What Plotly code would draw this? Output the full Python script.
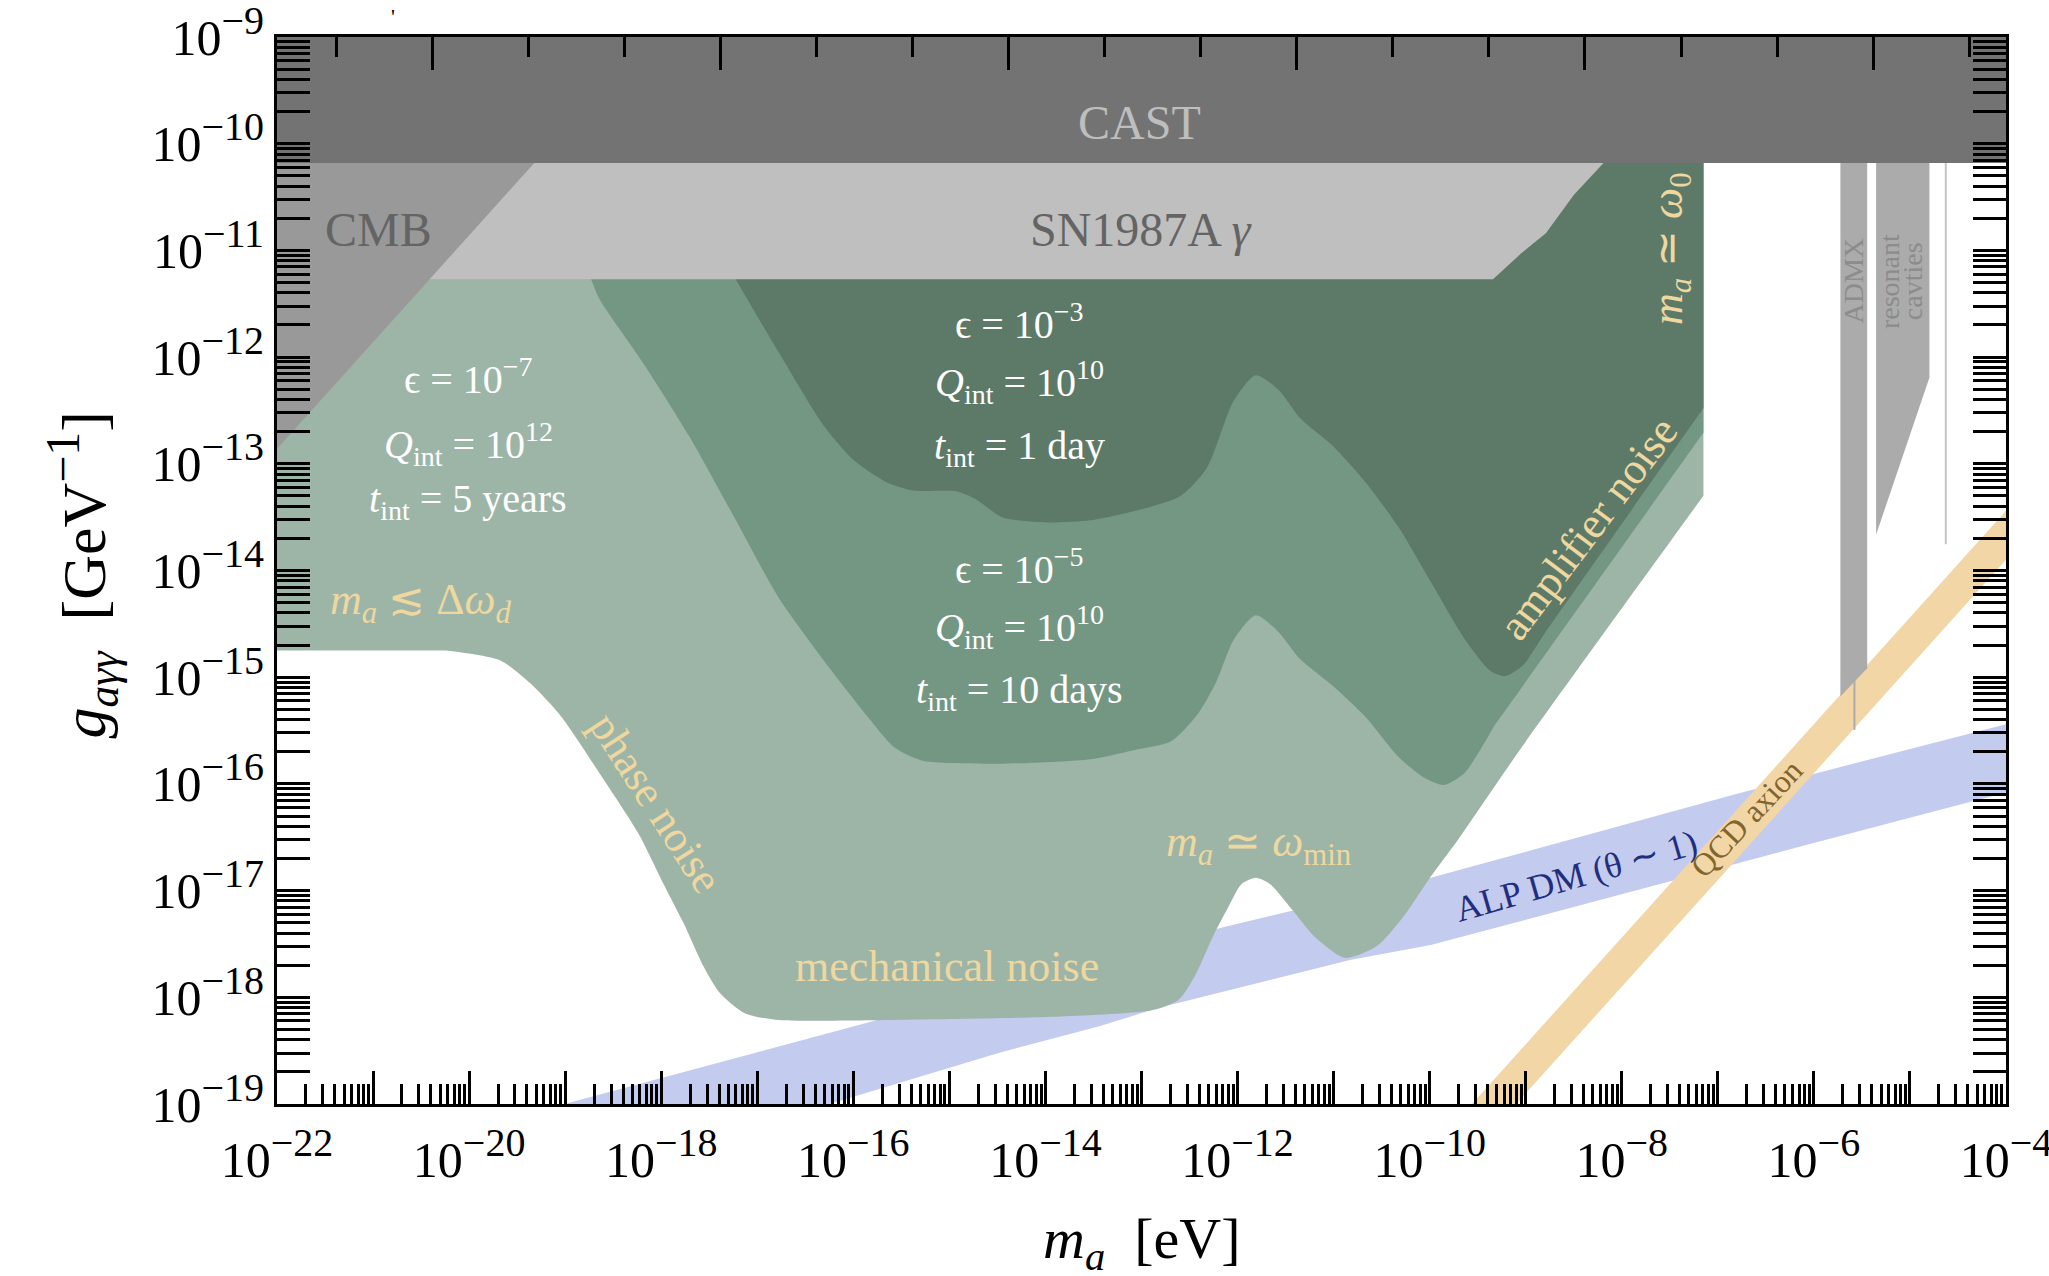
import numpy as np
import plotly.graph_objects as go

# all values are log10 exponents
# m_a in eV (x), g_agg in GeV^-1 (y)
X_RANGE = [-22, -4]
Y_RANGE = [-19, -9]
HZ_PER_EV = 14.383  # log10(eV -> Hz), for the top frequency ticks

CAST_M = [-22, -4, -4, -22]
CAST_G = [-9, -9, -10.18, -10.18]

CMB_M = [-22, -19.32, -22]
CMB_G = [-10.18, -10.18, -12.86]

SN_M = [-19.32, -8.19, -8.50, -8.79, -9.05, -9.34, -20.41]
SN_G = [-10.18, -10.18, -10.48, -10.84, -11.03, -11.27, -11.27]

# eps = 1e-7, Q = 1e12, 5 years
LIGHT_M = [-7.15, -7.15, -9.06, -9.71, -9.99, -10.27, -10.55, -10.88, -11.20, -11.43,
           -11.66, -11.81, -11.96, -12.10, -12.24, -12.45, -12.61, -12.88, -13.84, -15.43,
           -16.81, -17.13, -17.39, -17.56, -17.77, -17.98, -18.24, -18.62, -19.04, -19.36,
           -19.68, -20.24, -22.0, -22.0]
LIGHT_G = [-10.18, -13.30, -15.68, -16.53, -16.87, -17.24, -17.52, -17.63, -17.43, -17.18,
           -16.94, -16.88, -16.94, -17.16, -17.40, -17.81, -18.02, -18.12, -18.18, -18.21,
           -18.21, -18.15, -17.96, -17.71, -17.30, -16.93, -16.46, -15.93, -15.37, -15.06,
           -14.84, -14.75, -14.75, -10.18]
LIGHT_CORNERS = [1, 31, 32]

# eps = 1e-5, Q = 1e10, 10 days
MED_M = [-7.15, -7.15, -9.33, -9.63, -9.85, -10.06, -10.32, -10.67, -11.01, -11.35,
         -11.57, -11.81, -12.04, -12.22, -12.41, -12.69, -13.06, -13.53, -14.45, -15.29,
         -15.57, -15.85, -16.31, -16.78, -17.24, -17.71, -18.17, -18.64, -18.73, -18.73]
MED_G = [-10.18, -12.71, -15.46, -15.89, -16.01, -15.94, -15.75, -15.37, -15.08, -14.83,
         -14.58, -14.42, -14.65, -15.04, -15.34, -15.60, -15.68, -15.77, -15.81, -15.78,
         -15.66, -15.37, -14.84, -14.25, -13.50, -12.74, -12.08, -11.46, -11.27, -10.18]
MED_CORNERS = [1, 2, 28]

# eps = 1e-3, Q = 1e10, 1 day
DARK_M = [-7.15, -7.15, -8.81, -9.03, -9.22, -9.37, -9.63, -9.98, -10.32, -10.67,
          -11.01, -11.35, -11.57, -11.81, -12.04, -12.32, -12.59, -12.97, -13.53, -13.99,
          -14.45, -14.73, -14.92, -15.38, -15.66, -15.99, -16.31, -16.78, -17.22, -17.22]
DARK_G = [-10.18, -12.48, -14.60, -14.89, -14.99, -14.94, -14.65, -14.12, -13.60, -13.17,
          -12.83, -12.57, -12.31, -12.17, -12.41, -13.04, -13.30, -13.42, -13.53, -13.55,
          -13.50, -13.33, -13.26, -13.25, -13.17, -12.97, -12.64, -11.95, -11.28, -10.18]
DARK_CORNERS = [1, 28]

ALP_UP_M = [-20.0, -19.01, -15.73, -12.14, -9.99, -6.79, -4.0]
ALP_UP_G = [-19.24, -19.0, -18.21, -17.34, -16.88, -16.09, -15.44]
ALP_LO_M = [-17.0, -16.25, -14.48, -13.43, -12.83, -10.83, -9.99, -6.15, -4.0]
ALP_LO_G = [-19.20, -19.0, -18.52, -18.27, -18.10, -17.65, -17.51, -16.59, -16.08]

QCD_M = [-10.5, -3.5]
QCD_UP_G = [-19.94, -12.94]
QCD_LO_G = [-20.40, -13.40]

ADMX_M = [-5.724, -5.445, -5.445, -5.724]
ADMX_G = [-10.18, -10.18, -14.917, -15.181]
ADMX_TAIL_M = [-5.578, -5.578]
ADMX_TAIL_G = [-15.0, -15.494]

CAV_M = [-5.352, -4.797, -4.797, -5.352]
CAV_G = [-10.18, -10.18, -12.192, -13.663]
CAV_LINE_M = [-4.627, -4.627]
CAV_LINE_G = [-10.18, -13.753]

FONT = "Liberation Serif"
BEIGE = "#efd7a0"


def poly(m, g, color):
    return go.Scatter(x=10.0 ** np.array(m), y=10.0 ** np.array(g), mode="lines",
                      fill="toself", fillcolor=color, line=dict(width=0),
                      hoverinfo="skip", showlegend=False)


def smooth_poly(m, g, corners, color):
    # spline outline; corner points are repeated so the spline keeps them sharp
    xs, ys = [], []
    for i, (a, b) in enumerate(zip(m, g)):
        reps = 2 if i in corners else 1
        xs += [a] * reps
        ys += [b] * reps
    return go.Scatter(x=10.0 ** np.array(xs), y=10.0 ** np.array(ys), mode="lines",
                      fill="toself", fillcolor=color,
                      line=dict(width=0, shape="spline", smoothing=0.7),
                      hoverinfo="skip", showlegend=False)


def band(m_up, g_up, m_lo, g_lo, color):
    return poly(list(m_up) + list(m_lo)[::-1], list(g_up) + list(g_lo)[::-1], color)


def seg(m, g, color, w):
    return go.Scatter(x=10.0 ** np.array(m), y=10.0 ** np.array(g), mode="lines",
                      line=dict(color=color, width=w), hoverinfo="skip", showlegend=False)


def sup(n, size):
    return f'10<sup><span style="font-size:{size}px">−{n}</span></sup>'


fig = go.Figure()
fig.add_trace(band(ALP_UP_M, ALP_UP_G, ALP_LO_M, ALP_LO_G, "#c3cbef"))
fig.add_trace(band(QCD_M, QCD_UP_G, QCD_M, QCD_LO_G, "#f2d6a6"))
fig.add_trace(smooth_poly(LIGHT_M, LIGHT_G, LIGHT_CORNERS, "#9db5a7"))
fig.add_trace(smooth_poly(MED_M, MED_G, MED_CORNERS, "#749783"))
fig.add_trace(smooth_poly(DARK_M, DARK_G, DARK_CORNERS, "#5d7a68"))
fig.add_trace(poly(CMB_M, CMB_G, "#999999"))
fig.add_trace(poly(SN_M, SN_G, "#bfbfbf"))
fig.add_trace(poly(CAST_M, CAST_G, "#737373"))
fig.add_trace(poly(ADMX_M, ADMX_G, "#ababab"))
fig.add_trace(seg(ADMX_TAIL_M, ADMX_TAIL_G, "#ababab", 2))
fig.add_trace(poly(CAV_M, CAV_G, "#ababab"))
fig.add_trace(seg(CAV_LINE_M, CAV_LINE_G, "#c4c4c4", 2))
# empty trace so the top (frequency) axis is drawn
fig.add_trace(go.Scatter(x=[], y=[], xaxis="x2", showlegend=False))

# labels: text, log m, log g, size, colour, angle
LABELS = [
    ("CAST", -13.02, -9.80, 48, "#bebebe", 0),
    ("CMB", -20.94, -10.80, 48, "#646464", 0),
    ("SN1987A <i>γ</i>", -13.01, -10.80, 48, "#646464", 0),
    ("ϵ = 10<sup>−7</sup>", -20.01, -12.18, 40, "white", 0),
    ("<i>Q</i><sub>int</sub> = 10<sup>12</sup>", -20.01, -12.81, 40, "white", 0),
    ("<i>t</i><sub>int</sub> = 5 years", -20.01, -13.35, 40, "white", 0),
    ("ϵ = 10<sup>−3</sup>", -14.27, -11.67, 40, "white", 0),
    ("<i>Q</i><sub>int</sub> = 10<sup>10</sup>", -14.27, -12.23, 40, "white", 0),
    ("<i>t</i><sub>int</sub> = 1 day", -14.27, -12.85, 40, "white", 0),
    ("ϵ = 10<sup>−5</sup>", -14.27, -13.96, 40, "white", 0),
    ("<i>Q</i><sub>int</sub> = 10<sup>10</sup>", -14.27, -14.53, 40, "white", 0),
    ("<i>t</i><sub>int</sub> = 10 days", -14.27, -15.14, 40, "white", 0),
    ("<i>m<sub>a</sub></i> ≲ Δ<i>ω<sub>d</sub></i>", -20.50, -14.30, 44, BEIGE, 0),
    ("phase noise", -18.05, -16.18, 44, BEIGE, 57),
    ("mechanical noise", -15.02, -17.71, 44, BEIGE, 0),
    ("<i>m<sub>a</sub></i> ≃ <i>ω</i><sub>min</sub>", -11.78, -16.57, 44, BEIGE, 0),
    ("amplifier noise", -8.35, -13.61, 44, BEIGE, -53),
    ("<i>m<sub>a</sub></i> ≃ <i>ω</i><sub>0</sub>", -7.50, -10.98, 44, BEIGE, -90),
    ("ALP DM (θ ∼ 1)", -8.48, -16.86, 36, "#232d7d", -16),
    ("QCD axion", -6.70, -16.32, 32, "#82642d", -47),
    ("ADMX", -5.59, -11.28, 28, "#8c8c8c", -90),
    ("resonant", -5.21, -11.29, 28, "#8c8c8c", -90),
    ("cavties", -4.98, -11.29, 28, "#8c8c8c", -90),
]
for text, lx, ly, size, color, ang in LABELS:
    fig.add_annotation(x=lx, y=ly, xref="x", yref="y", text=text, showarrow=False,
                       textangle=ang, font=dict(size=size, color=color, family=FONT))

# axis titles
fig.add_annotation(x=0.5, y=-0.130, xref="paper", yref="paper", showarrow=False,
                   xanchor="center", yanchor="middle",
                   text="<i>m<sub>a</sub></i>\u00a0\u00a0[eV]", font=dict(size=58, family=FONT))
fig.add_annotation(x=-0.113, y=0.496, xref="paper", yref="paper", showarrow=False,
                   xanchor="center", yanchor="middle", textangle=-90,
                   text='<i>g<sub>aγγ</sub></i>\u00a0\u00a0[GeV<sup><span style="font-size:48px">−1</span></sup>]',
                   font=dict(size=62, family=FONT))
fig.add_annotation(x=0.067, y=1.033, xref="paper", yref="paper", showarrow=False,
                   xanchor="center", yanchor="top", text="'", font=dict(size=22, family=FONT))

x_dec = list(range(X_RANGE[0], X_RANGE[1] + 1))
y_dec = list(range(Y_RANGE[0], Y_RANGE[1] + 1))
x_minor = [k * 10.0 ** n for n in x_dec[:-1] for k in range(2, 10)]
y_minor = [k * 10.0 ** n for n in y_dec[:-1] for k in range(2, 10)]
tick_font = dict(size=50, family=FONT, color="black")

fig.update_layout(
    width=2049, height=1276,
    margin=dict(l=277, r=43, t=37, b=172),
    paper_bgcolor="white", plot_bgcolor="white",
    showlegend=False,
    font=dict(family=FONT, color="black"),
    xaxis=dict(type="log", range=X_RANGE, tickmode="array", automargin=False,
               tickvals=[10.0 ** n for n in x_dec],
               ticktext=[sup(-n, 40) if n % 2 == 0 else "" for n in x_dec],
               ticks="inside", ticklen=33, tickwidth=3, tickcolor="black",
               showline=True, linewidth=3, linecolor="black", mirror=True,
               showgrid=False, zeroline=False, tickfont=tick_font, ticklabelstandoff=10,
               ticklabeloverflow="allow",
               minor=dict(tickmode="array", tickvals=x_minor, ticks="inside", ticklen=20,
                          tickwidth=2.5, tickcolor="black", showgrid=False)),
    xaxis2=dict(type="log", overlaying="x", side="top", anchor="y", automargin=False,
                range=[X_RANGE[0] + HZ_PER_EV, X_RANGE[1] + HZ_PER_EV], tickmode="array",
                tickvals=[10.0 ** n for n in range(-7, 11) if n % 3 == 0],
                ticks="inside", ticklen=33, tickwidth=3, tickcolor="black",
                showticklabels=False, showgrid=False, zeroline=False, showline=False,
                minor=dict(tickmode="array",
                           tickvals=[10.0 ** n for n in range(-7, 11) if n % 3 != 0],
                           ticks="inside", ticklen=20, tickwidth=3, tickcolor="black",
                           showgrid=False)),
    yaxis=dict(type="log", range=Y_RANGE, tickmode="array", automargin=False,
               tickvals=[10.0 ** n for n in y_dec],
               ticktext=[sup(-n, 40) for n in y_dec],
               ticks="inside", ticklen=33, tickwidth=3, tickcolor="black",
               showline=True, linewidth=3, linecolor="black", mirror="allticks",
               showgrid=False, zeroline=False, tickfont=tick_font, ticklabelstandoff=0,
               ticklabeloverflow="allow",
               minor=dict(tickmode="array", tickvals=y_minor, ticks="inside", ticklen=20,
                          tickwidth=2.5, tickcolor="black", showgrid=False)),
)

fig.write_html("out.html", config={"displayModeBar": False},
               post_script="document.body.style.margin='0';")
